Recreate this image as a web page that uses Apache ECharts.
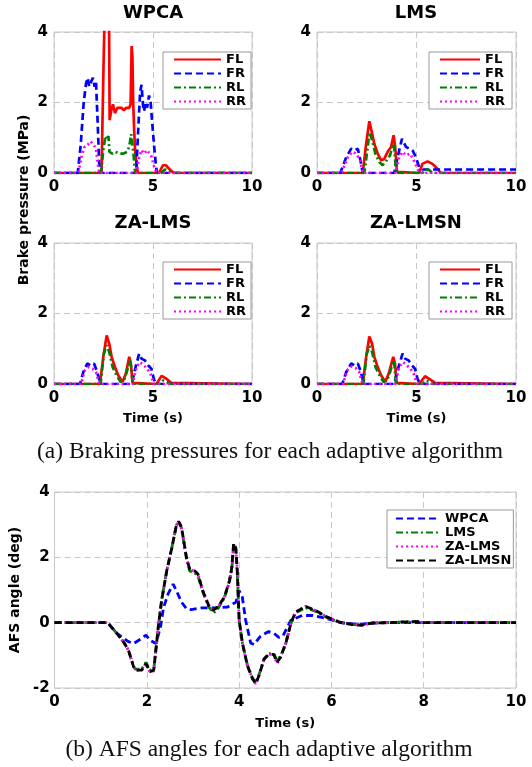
<!DOCTYPE html>
<html><head><meta charset="utf-8">
<script src="https://cdn.jsdelivr.net/npm/echarts/dist/echarts.min.js"></script>
<style>html,body{margin:0;padding:0;background:#fff}#c{width:532px;height:767px}</style>
</head><body><div id="c"></div>
<script>
// ---------- Data (time in s, value) ----------
const wheelNames = ['FL', 'FR', 'RL', 'RR'];
const afsNames = ['WPCA', 'LMS', 'ZA-LMS', 'ZA-LMSN'];
const subTitles = ['WPCA', 'LMS', 'ZA-LMS', 'ZA-LMSN'];
const pressureTicks = [0, 2, 4];
const timeTicksTop = [0, 5, 10];
const afsTicks = [-2, 0, 2, 4];
const timeTicksBottom = [0, 2, 4, 6, 8, 10];

// WPCA brake pressures (MPa)
const wpcaFL = [[0,0],[2.4,0],[2.5,3.0],[2.55,4.3],[2.78,4.3],[2.81,1.5],[2.9,1.8],[2.98,1.95],[3.08,1.7],[3.2,1.85],[3.3,1.8],[3.42,1.85],[3.52,1.78],[3.65,1.85],[3.8,1.85],[3.87,1.95],[3.92,3.6],[3.96,3.3],[4.0,2.0],[4.05,1.2],[4.1,0.6],[4.2,0.1],[4.25,0],[5.3,0],[5.5,0.22],[5.65,0.22],[5.85,0.1],[6.05,0],[10,0]];
const wpcaFR = [[0,0],[1.2,0],[1.35,0.8],[1.5,2.0],[1.62,2.55],[1.7,2.7],[1.78,2.45],[1.88,2.6],[1.97,2.7],[2.05,2.45],[2.12,2.6],[2.2,1.5],[2.28,0.3],[2.32,0],[4.15,0],[4.25,1.2],[4.35,2.3],[4.42,2.5],[4.5,1.9],[4.55,1.75],[4.62,2.0],[4.7,1.85],[4.8,2.2],[4.88,2.0],[4.95,1.5],[5.05,0.8],[5.15,0.2],[5.2,0],[10,0]];
const wpcaRL = [[0,0],[2.37,0],[2.5,0.7],[2.6,1.05],[2.68,0.95],[2.75,1.05],[2.8,0.6],[2.95,0.55],[3.1,0.6],[3.3,0.55],[3.5,0.55],[3.7,0.6],[3.8,0.75],[3.9,1.1],[3.96,1.15],[4.02,0.5],[4.1,0],[5.4,0],[5.6,0.1],[5.8,0.05],[6.0,0],[10,0]];
const wpcaRR = [[0,0],[1.23,0],[1.4,0.5],[1.55,0.75],[1.7,0.8],[1.85,0.9],[2.0,0.8],[2.12,0.7],[2.2,0.3],[2.28,0],[4.17,0],[4.3,0.45],[4.42,0.65],[4.55,0.55],[4.7,0.65],[4.78,0.7],[4.9,0.5],[5.05,0.2],[5.18,0],[10,0]];

// LMS brake pressures (MPa)
const lmsFL = [[0,0],[2.3,0],[2.47,0.83],[2.63,1.47],[2.77,1.12],[2.88,0.83],[3.05,0.55],[3.22,0.36],[3.38,0.4],[3.55,0.6],[3.72,0.74],[3.85,1.07],[3.93,0.74],[4.02,0.03],[4.05,0],[5.13,0],[5.3,0.26],[5.55,0.33],[5.8,0.26],[6.05,0.12],[6.22,0],[10,0]];
const lmsFR = [[0,0],[1.17,0],[1.47,0.45],[1.72,0.69],[1.88,0.64],[2.05,0.69],[2.18,0.36],[2.3,0],[3.88,0],[4.05,0.45],[4.27,0.97],[4.47,0.74],[4.63,0.69],[4.8,0.64],[4.97,0.45],[5.13,0.17],[5.3,0.1],[10,0.1]];
const lmsRL = [[0,0],[2.38,0],[2.55,0.74],[2.63,1.16],[2.77,0.93],[2.93,0.55],[3.13,0.31],[3.3,0.22],[3.5,0.36],[3.67,0.5],[3.83,0.83],[3.9,0.6],[3.97,0],[5.3,0],[5.45,0.1],[5.65,0.08],[5.8,0],[10,0]];
const lmsRR = [[0,0],[1.22,0],[1.55,0.45],[1.77,0.6],[1.97,0.55],[2.17,0.36],[2.3,0],[3.93,0],[4.13,0.45],[4.3,0.6],[4.47,0.5],[4.67,0.55],[4.83,0.4],[5.05,0.12],[5.17,0],[10,0]];

// ZA-LMS brake pressures (MPa)
const zalmsFL = [[0,0],[2.32,0],[2.49,0.77],[2.66,1.38],[2.79,1.14],[2.91,0.77],[3.08,0.48],[3.24,0.25],[3.46,0.06],[3.63,0.29],[3.8,0.77],[3.88,0.58],[3.97,0.03],[4.0,0],[5.18,0],[5.43,0.23],[5.68,0.15],[5.93,0.03],[6.0,0],[10,0]];
const zalmsFR = [[0,0],[1.31,0],[1.48,0.34],[1.68,0.58],[1.85,0.53],[2.02,0.58],[2.15,0.39],[2.32,0.06],[2.35,0],[3.92,0],[4.08,0.39],[4.3,0.86],[4.42,0.72],[4.59,0.67],[4.76,0.53],[4.92,0.43],[5.04,0.15],[5.14,0],[10,0]];
const zalmsRL = [[0,0],[2.35,0],[2.52,0.86],[2.66,1.1],[2.79,0.91],[2.96,0.48],[3.16,0.25],[3.36,0.06],[3.53,0.1],[3.7,0.39],[3.83,0.67],[3.9,0.48],[3.97,0],[5.35,0],[5.5,0.1],[5.7,0.06],[5.85,0],[10,0]];
const zalmsRR = [[0,0],[1.36,0],[1.56,0.39],[1.73,0.48],[1.95,0.43],[2.12,0.34],[2.29,0],[3.97,0],[4.17,0.48],[4.34,0.62],[4.54,0.53],[4.71,0.43],[4.87,0.29],[5.04,0],[10,0]];

// ZA-LMSN brake pressures (MPa)
const zalmsnFL = [[0,0],[2.3,0],[2.47,0.77],[2.63,1.35],[2.77,1.14],[2.88,0.77],[3.05,0.48],[3.22,0.25],[3.43,0.06],[3.6,0.29],[3.83,0.77],[3.92,0.58],[4.0,0.03],[4.03,0],[5.13,0],[5.43,0.22],[5.68,0.13],[5.93,0.03],[6.0,0],[10,0]];
const zalmsnFR = [[0,0],[1.27,0],[1.47,0.34],[1.72,0.58],[1.88,0.53],[2.05,0.58],[2.18,0.39],[2.33,0.06],[2.36,0],[3.88,0],[4.05,0.39],[4.3,0.86],[4.43,0.72],[4.6,0.67],[4.77,0.53],[4.93,0.43],[5.05,0.15],[5.17,0],[10,0]];
const zalmsnRL = [[0,0],[2.33,0],[2.5,0.86],[2.64,1.08],[2.77,0.91],[2.94,0.48],[3.14,0.25],[3.34,0.06],[3.52,0.1],[3.7,0.39],[3.83,0.67],[3.9,0.48],[3.97,0],[5.3,0],[5.45,0.1],[5.65,0.06],[5.8,0],[10,0]];
const zalmsnRR = [[0,0],[1.3,0],[1.52,0.39],[1.72,0.5],[1.95,0.45],[2.12,0.34],[2.29,0],[3.93,0],[4.13,0.48],[4.32,0.62],[4.52,0.53],[4.7,0.43],[4.86,0.29],[5.03,0],[10,0]];

// AFS angles (deg)
const afsWPCA = [[0,0],[1.15,0],[1.35,-0.33],[1.6,-0.58],[1.71,-0.64],[1.89,-0.48],[1.98,-0.38],[2.07,-0.54],[2.2,-0.64],[2.3,-0.1],[2.36,0.45],[2.46,0.88],[2.57,1.18],[2.64,0.98],[2.75,0.63],[2.86,0.43],[2.96,0.4],[3.18,0.45],[3.46,0.45],[3.75,0.48],[3.93,0.63],[4.0,0.98],[4.07,0.78],[4.14,0.08],[4.25,-0.62],[4.32,-0.67],[4.46,-0.42],[4.64,-0.27],[4.75,-0.32],[4.86,-0.45],[4.95,-0.4],[5.12,0.07],[5.37,0.22],[5.59,0.22],[5.91,0.12],[6.24,-0.01],[6.6,-0.05],[6.96,-0.01],[7.3,0],[10,0]];
const afsLMS = [[0,0],[1.15,0],[1.35,-0.33],[1.5,-0.6],[1.6,-0.84],[1.71,-1.34],[1.75,-1.42],[1.89,-1.42],[1.98,-1.22],[2.07,-1.45],[2.15,-1.42],[2.25,-0.1],[2.32,0.68],[2.43,1.58],[2.54,2.28],[2.64,2.98],[2.69,3.08],[2.75,2.9],[2.86,1.95],[2.93,1.58],[3.04,1.52],[3.11,1.42],[3.21,0.95],[3.34,0.48],[3.45,0.3],[3.55,0.45],[3.68,0.76],[3.79,1.25],[3.84,1.62],[3.88,2.3],[3.93,2.2],[3.96,1.5],[4.0,0.08],[4.07,-0.62],[4.18,-1.3],[4.29,-1.7],[4.36,-1.82],[4.43,-1.6],[4.54,-1.1],[4.64,-0.95],[4.75,-0.95],[4.82,-1.15],[4.9,-1.02],[5.01,-0.64],[5.12,-0.03],[5.22,0.3],[5.44,0.46],[5.66,0.34],[5.91,0.15],[6.17,0.02],[6.42,-0.05],[6.64,-0.07],[6.9,-0.01],[7.2,0],[7.85,0.04],[8.0,0],[10,0]];
const afsZALMS = [[0,0],[1.15,0],[1.35,-0.33],[1.5,-0.6],[1.6,-0.84],[1.71,-1.34],[1.75,-1.45],[1.89,-1.45],[1.98,-1.25],[2.07,-1.52],[2.15,-1.48],[2.25,-0.1],[2.32,0.68],[2.43,1.58],[2.54,2.28],[2.64,2.98],[2.69,3.1],[2.75,2.93],[2.86,1.98],[2.93,1.63],[3.04,1.58],[3.11,1.48],[3.21,0.98],[3.34,0.53],[3.43,0.38],[3.54,0.48],[3.68,0.78],[3.79,1.28],[3.84,1.68],[3.88,2.4],[3.93,2.25],[3.96,1.58],[4.0,0.08],[4.07,-0.62],[4.18,-1.32],[4.29,-1.72],[4.36,-1.87],[4.43,-1.62],[4.54,-1.12],[4.64,-0.97],[4.75,-0.97],[4.82,-1.25],[4.9,-1.05],[5.01,-0.64],[5.12,-0.03],[5.22,0.32],[5.44,0.5],[5.66,0.37],[5.91,0.17],[6.17,0.02],[6.42,-0.05],[6.64,-0.08],[6.9,-0.01],[7.2,0],[7.85,0.03],[8.0,0],[10,0]];
const afsZALMSN = [[0,0],[1.15,0],[1.35,-0.33],[1.5,-0.6],[1.6,-0.84],[1.71,-1.34],[1.75,-1.45],[1.89,-1.45],[1.98,-1.25],[2.07,-1.5],[2.15,-1.45],[2.25,-0.1],[2.32,0.68],[2.43,1.58],[2.54,2.28],[2.64,2.98],[2.69,3.1],[2.75,2.93],[2.86,1.98],[2.93,1.63],[3.04,1.58],[3.11,1.48],[3.21,0.98],[3.34,0.53],[3.43,0.38],[3.54,0.48],[3.68,0.78],[3.79,1.28],[3.84,1.68],[3.88,2.43],[3.93,2.28],[3.96,1.58],[4.0,0.08],[4.07,-0.62],[4.18,-1.32],[4.29,-1.72],[4.36,-1.87],[4.43,-1.62],[4.54,-1.12],[4.64,-0.97],[4.75,-0.97],[4.82,-1.22],[4.9,-1.05],[5.01,-0.64],[5.12,-0.03],[5.22,0.32],[5.44,0.5],[5.66,0.37],[5.91,0.17],[6.17,0.02],[6.42,-0.05],[6.64,-0.08],[6.9,-0.01],[7.2,0],[7.85,0.03],[8.0,0],[10,0]];

const pressureSets = [
  [wpcaFL, wpcaFR, wpcaRL, wpcaRR],
  [lmsFL, lmsFR, lmsRL, lmsRR],
  [zalmsFL, zalmsFR, zalmsRL, zalmsRR],
  [zalmsnFL, zalmsnFR, zalmsnRL, zalmsnRR]
];
const afsSets = [afsWPCA, afsLMS, afsZALMS, afsZALMSN];

// ---------- Styles ----------
const FONT = 'DejaVu Sans';
const wheelStyles = [
  {color: '#ff0000', type: 'solid'},
  {color: '#0000ff', type: [7, 4]},
  {color: '#008000', type: [7, 3, 2, 3]},
  {color: '#ff00ff', type: [2, 3]}
];
const afsStyles = [
  {color: '#0000ff', type: [7, 4]},
  {color: '#008000', type: [7, 3, 2, 3]},
  {color: '#ff00ff', type: [2, 3]},
  {color: '#000000', type: [7, 4]}
];
const grids = [
  {left: 54, top: 32, width: 198, height: 141},
  {left: 317, top: 32, width: 199, height: 141},
  {left: 54, top: 243, width: 198, height: 141},
  {left: 317, top: 243, width: 199, height: 141},
  {left: 54, top: 492, width: 462, height: 196}
];
const gridLine = {show: true, lineStyle: {color: '#c8c8c8', type: [6, 4], width: 1}};
const tickFont = {color: '#000', fontFamily: FONT, fontWeight: 'bold', fontSize: 15};
const nameFont = {color: '#000', fontFamily: FONT, fontWeight: 'bold', fontSize: 13};

const xAxes = [], yAxes = [], series = [];
for (let i = 0; i < 4; i++) {
  xAxes.push({
    type: 'value', gridIndex: i, min: timeTicksTop[0], max: timeTicksTop[timeTicksTop.length - 1], interval: 5,
    axisLine: {show: false}, axisTick: {show: false}, splitLine: gridLine,
    axisLabel: Object.assign({margin: 7}, tickFont),
    name: i >= 2 ? 'Time (s)' : '', nameLocation: 'middle', nameGap: 28, nameTextStyle: nameFont
  });
  yAxes.push({
    type: 'value', gridIndex: i, min: pressureTicks[0], max: pressureTicks[pressureTicks.length - 1], interval: 2,
    axisLine: {show: false}, axisTick: {show: false}, splitLine: gridLine,
    axisLabel: Object.assign({margin: 6}, tickFont)
  });
  pressureSets[i].forEach((d, k) => {
    series.push({
      type: 'line', name: wheelNames[k], xAxisIndex: i, yAxisIndex: i, data: d,
      showSymbol: false, symbol: 'none', clip: true, color: wheelStyles[k].color,
      lineStyle: {color: wheelStyles[k].color, width: 2.7, type: wheelStyles[k].type}
    });
  });
}
xAxes.push({
  type: 'value', gridIndex: 4, min: timeTicksBottom[0], max: timeTicksBottom[timeTicksBottom.length - 1], interval: 2,
  axisLine: {show: false}, axisTick: {show: false}, splitLine: gridLine,
  axisLabel: Object.assign({margin: 7}, tickFont),
  name: 'Time (s)', nameLocation: 'middle', nameGap: 29, nameTextStyle: nameFont
});
yAxes.push({
  type: 'value', gridIndex: 4, min: afsTicks[0], max: afsTicks[afsTicks.length - 1], interval: 2,
  axisLine: {show: false}, axisTick: {show: false}, splitLine: gridLine,
  axisLabel: Object.assign({margin: 5}, tickFont),
  name: 'AFS angle (deg)', nameLocation: 'middle', nameGap: 27, nameRotate: 90,
  nameTextStyle: Object.assign({}, nameFont, {fontSize: 14})
});
afsSets.forEach((d, k) => {
  series.push({
    type: 'line', name: afsNames[k], xAxisIndex: 4, yAxisIndex: 4, data: d,
    showSymbol: false, symbol: 'none', clip: true, color: afsStyles[k].color,
    lineStyle: {color: afsStyles[k].color, width: 2.8, type: afsStyles[k].type}
  });
});

function legendAt(left, top, names, itemWidth, padding) {
  return {
    data: names, left: left, top: top, orient: 'vertical', itemWidth: itemWidth, itemHeight: 10, itemGap: 1,
    padding: padding, backgroundColor: '#fff', borderColor: '#999', borderWidth: 1, borderRadius: 0,
    itemStyle: {opacity: 0, borderWidth: 0},
    selectedMode: false, textStyle: {color: '#000', fontFamily: FONT, fontWeight: 'bold', fontSize: 13}
  };
}

const titleCenters = [[153, 13], [416, 13], [153, 223], [416, 223]];
const graphics = subTitles.map((t, i) => ({
  type: 'text', x: titleCenters[i][0], y: titleCenters[i][1],
  style: {text: t, fill: '#000', fontFamily: FONT, fontWeight: 'bold', fontSize: 18, align: 'center', verticalAlign: 'middle'}
}));
graphics.push({
  type: 'text', x: 24, y: 200, rotation: Math.PI / 2,
  style: {text: 'Brake pressure (MPa)', fill: '#000', fontFamily: FONT, fontWeight: 'bold', fontSize: 14, align: 'center', verticalAlign: 'middle'}
});
graphics.push({
  type: 'text', x: 270, y: 452,
  style: {text: '(a) Braking pressures for each adaptive algorithm', fill: '#111', fontFamily: 'Liberation Serif', fontSize: 23.5, align: 'center', verticalAlign: 'middle'}
});
graphics.push({
  type: 'text', x: 269, y: 750,
  style: {text: '(b) AFS angles for each adaptive algorithm', fill: '#111', fontFamily: 'Liberation Serif', fontSize: 23.5, align: 'center', verticalAlign: 'middle'}
});

const chart = echarts.init(document.getElementById('c'), null, {renderer: 'canvas'});
chart.setOption({
  animation: false,
  backgroundColor: '#fff',
  grid: grids.map(g => Object.assign({show: true, borderColor: '#c8c8c8', borderWidth: 1, backgroundColor: '#fff', containLabel: false}, g)),
  xAxis: xAxes,
  yAxis: yAxes,
  legend: [
    legendAt(163, 52, wheelNames, 47, [1, 5, 1, 10]),
    legendAt(429, 52, wheelNames, 40, [1, 7, 1, 10]),
    legendAt(163, 262, wheelNames, 47, [1, 5, 1, 10]),
    legendAt(429, 262, wheelNames, 40, [1, 7, 1, 10]),
    legendAt(387, 510, afsNames, 44, [2, 2, 1, 8])
  ],
  graphic: graphics,
  series: series
});
</script>
</body></html>
